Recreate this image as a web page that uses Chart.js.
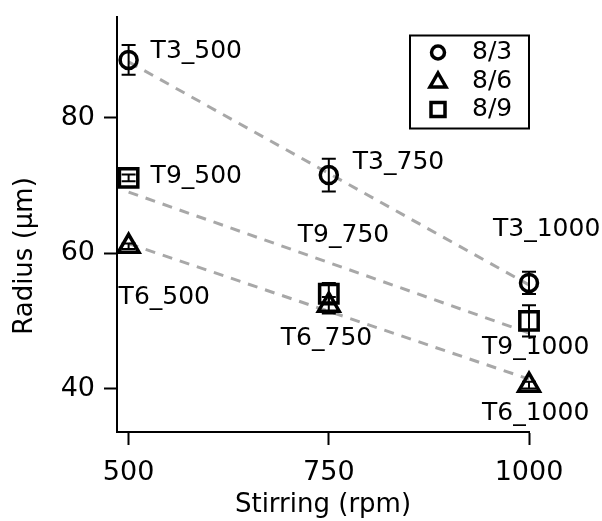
<!DOCTYPE html>
<html>
<head>
<meta charset="utf-8">
<script src="https://cdn.jsdelivr.net/npm/chart.js@4.4.0/dist/chart.umd.min.js"></script>
<style>
  html, body { margin: 0; padding: 0; background: #fff; }
</style>
</head>
<body>
<canvas id="grafico" width="602" height="521"></canvas>
<script>
// --------------- Dados ------------------
const stirring = [500, 750, 1000];
const xTicks = [500, 750, 1000];
const yTicks = [40, 60, 80];

const radius83 = [88.5, 71.5, 55.6];
const radius86 = [61.0, 52.3, 40.5];
const radius89 = [71.1, 54.0, 50.0];

const erro83 = [2.2, 2.4, 1.65];
const erro86 = [0.4, 1.2, 0.5];
const erro89 = [0.5, 1.6, 2.3];

const ajusteX = [500, 1000];
const ajuste83 = [88.2, 55.3];
const ajuste86 = [61.4, 41.4];
const ajuste89 = [69.0, 48.2];

const rotulos83 = ["T3_500", "T3_750", "T3_1000"];
const rotulos86 = ["T6_500", "T6_750", "T6_1000"];
const rotulos89 = ["T9_500", "T9_750", "T9_1000"];

// deslocamento dos rotulos em pixels (esquerda do texto, centro vertical)
const offsets83 = [[22, -8], [24, -13], [-36, -53]];
const offsets86 = [[-10, 51], [-48, 33], [-47, 28]];
const offsets89 = [[22, -1], [-31, -58], [-47, 27]];

const FONTE = "'DejaVu Sans', Verdana, sans-serif";

function pontos(xs, ys) {
  return xs.map((x, i) => ({ x: x, y: ys[i] }));
}

function serie(nome, ys, erros, rotulos, offsets, estilo, raio) {
  return {
    label: nome,
    data: pontos(stirring, ys),
    erros: erros,
    rotulos: rotulos,
    offsets: offsets,
    showLine: false,
    pointStyle: estilo,
    pointRadius: raio,
    pointHoverRadius: raio,
    pointBorderWidth: 3.5,
    pointBorderColor: "#000",
    pointBackgroundColor: "rgba(0,0,0,0)",
    clip: false,
    order: 1,
  };
}

function ajuste(ys) {
  return {
    label: "ajuste",
    data: pontos(ajusteX, ys),
    showLine: true,
    borderColor: "#a8a8a8",
    borderWidth: 3,
    borderDash: [10, 8],
    pointRadius: 0,
    pointHoverRadius: 0,
    fill: false,
    clip: false,
    order: 2,
  };
}

// Barras de erro + rotulos dos pontos
const pluginErros = {
  id: "erros",
  afterDatasetsDraw(chart) {
    const ctx = chart.ctx;
    const sx = chart.scales.x;
    const sy = chart.scales.y;
    ctx.save();
    chart.data.datasets.forEach((ds) => {
      if (!ds.erros) return;
      ds.data.forEach((p, i) => {
        const px = sx.getPixelForValue(p.x);
        const top = sy.getPixelForValue(p.y + ds.erros[i]);
        const bot = sy.getPixelForValue(p.y - ds.erros[i]);
        ctx.strokeStyle = "#000";
        ctx.lineWidth = 2;
        ctx.beginPath();
        ctx.moveTo(px, top);
        ctx.lineTo(px, bot);
        ctx.moveTo(px - 7, top);
        ctx.lineTo(px + 7, top);
        ctx.moveTo(px - 7, bot);
        ctx.lineTo(px + 7, bot);
        ctx.stroke();
      });
      ctx.fillStyle = "#000";
      ctx.font = "25px " + FONTE;
      ctx.textAlign = "left";
      ctx.textBaseline = "middle";
      ds.data.forEach((p, i) => {
        const px = sx.getPixelForValue(p.x);
        const py = sy.getPixelForValue(p.y);
        ctx.fillText(ds.rotulos[i], px + ds.offsets[i][0], py + ds.offsets[i][1]);
      });
    });
    ctx.restore();
  },
};

// Legenda em caixa + titulo do eixo y
const pluginLegenda = {
  id: "legendaCaixa",
  afterDraw(chart) {
    const ctx = chart.ctx;
    const area = chart.chartArea;
    const series = chart.data.datasets.filter((d) => d.erros);
    const caixa = { x: area.right - 119, y: area.top + 19, w: 119, h: 93 };
    ctx.save();
    ctx.strokeStyle = "#000";
    ctx.lineWidth = 2;
    ctx.strokeRect(caixa.x, caixa.y, caixa.w, caixa.h);
    ctx.font = "25px " + FONTE;
    ctx.fillStyle = "#000";
    ctx.textAlign = "left";
    ctx.textBaseline = "middle";
    series.forEach((ds, i) => {
      const cx = caixa.x + 28;
      const cy = caixa.y + 17 + i * 28.5;
      ctx.lineWidth = 3.5;
      ctx.beginPath();
      if (ds.pointStyle === "circle") {
        ctx.arc(cx, cy, 6.5, 0, Math.PI * 2);
      } else if (ds.pointStyle === "triangle") {
        ctx.moveTo(cx, cy - 8);
        ctx.lineTo(cx + 8, cy + 6);
        ctx.lineTo(cx - 8, cy + 6);
        ctx.closePath();
      } else {
        ctx.rect(cx - 7, cy - 7, 14, 14);
      }
      ctx.stroke();
      ctx.fillText(ds.label, caixa.x + 62, cy);
    });

    // titulo do eixo y (deslocado para baixo como no original)
    ctx.translate(25, 256);
    ctx.rotate(-Math.PI / 2);
    ctx.textAlign = "center";
    ctx.font = "26px " + FONTE;
    ctx.fillText("Radius (μm)", 0, 0);
    ctx.restore();
  },
};

const ctx = document.getElementById("grafico").getContext("2d");

new Chart(ctx, {
  type: "scatter",
  data: {
    datasets: [
      serie("8/3", radius83, erro83, rotulos83, offsets83, "circle", 8.5),
      serie("8/6", radius86, erro86, rotulos86, offsets86, "triangle", 12),
      serie("8/9", radius89, erro89, rotulos89, offsets89, "rect", 13),
      ajuste(ajuste83),
      ajuste(ajuste86),
      ajuste(ajuste89),
    ],
  },
  options: {
    responsive: false,
    animation: false,
    devicePixelRatio: 1,
    layout: { padding: { left: 0, right: 73, top: 13, bottom: 0 } },
    plugins: {
      legend: { display: false },
      tooltip: { enabled: false },
    },
    scales: {
      x: {
        type: "linear",
        min: 485.5,
        max: 1000,
        afterBuildTicks: (s) => {
          s.ticks = xTicks.map((v) => ({ value: v }));
        },
        afterFit: (s) => {
          s.height = 89;
          s.paddingLeft = 0;
          s.paddingRight = 0;
        },
        grid: {
          drawOnChartArea: false,
          drawTicks: true,
          tickLength: 13,
          tickColor: "#000",
          tickWidth: 2,
        },
        border: { display: true, color: "#000", width: 2 },
        ticks: {
          color: "#000",
          font: { family: FONTE, size: 27 },
          padding: 12,
          maxRotation: 0,
          autoSkip: false,
          callback: (v) => String(v),
        },
        title: {
          display: true,
          text: "Stirring (rpm)",
          color: "#000",
          font: { family: FONTE, size: 26 },
          padding: { top: 0, bottom: 0 },
        },
      },
      y: {
        type: "linear",
        min: 33.6,
        max: 94.9,
        afterBuildTicks: (s) => {
          s.ticks = yTicks.map((v) => ({ value: v }));
        },
        afterFit: (s) => {
          s.width = 117;
          s.paddingTop = 0;
          s.paddingBottom = 0;
        },
        grid: {
          drawOnChartArea: false,
          drawTicks: true,
          tickLength: 13,
          tickColor: "#000",
          tickWidth: 2,
        },
        border: { display: true, color: "#000", width: 2 },
        ticks: {
          color: "#000",
          font: { family: FONTE, size: 27 },
          padding: 9,
          callback: (v) => String(v),
        },
        title: { display: false },
      },
    },
  },
  plugins: [pluginErros, pluginLegenda],
});
</script>
</body>
</html>
